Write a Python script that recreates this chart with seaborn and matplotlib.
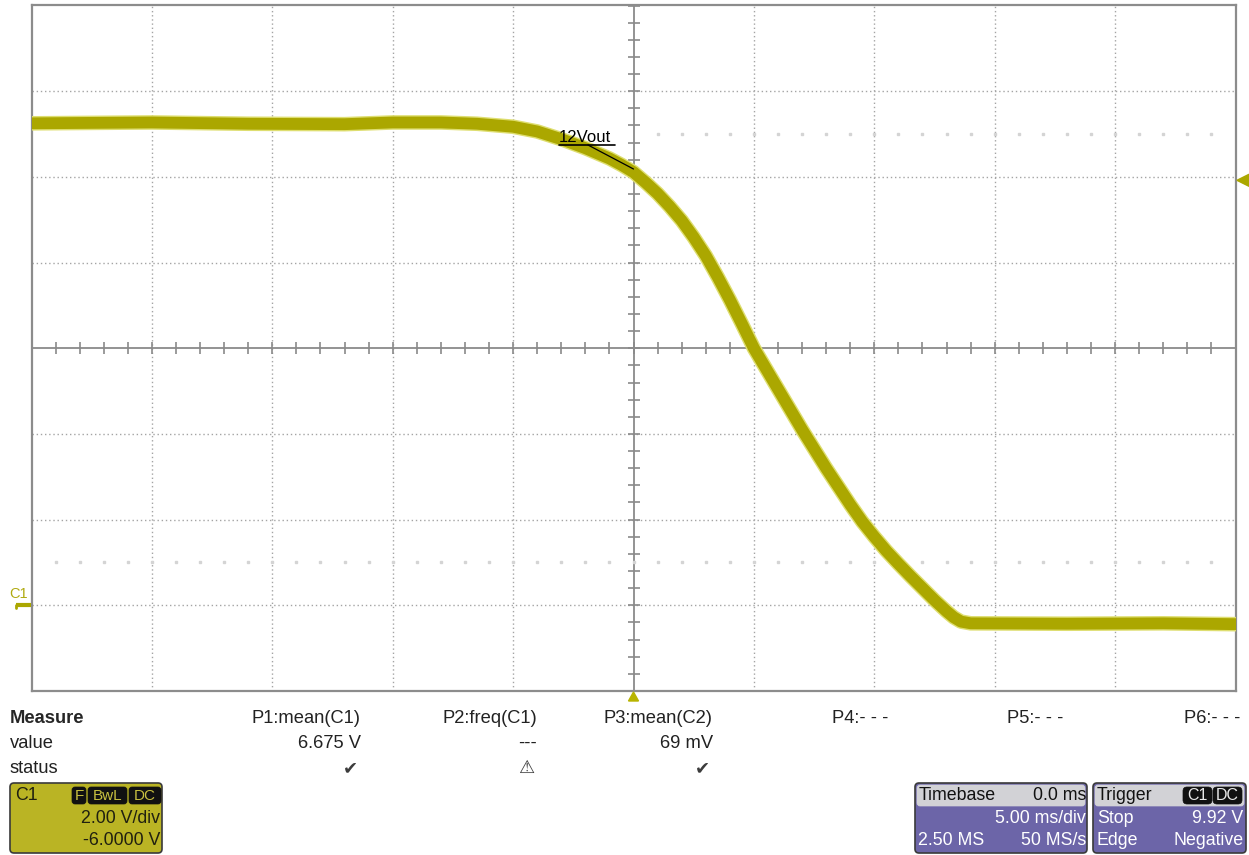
import numpy as np
import pandas as pd
import matplotlib
matplotlib.use("Agg")
import matplotlib.pyplot as plt
from matplotlib.patches import FancyBboxPatch, Polygon
import seaborn as sns

time_ms = [-25, -20, -16, -12, -10, -8, -6.5, -5, -4, -3, -2, -1, -0.5, 0, 0.5, 1,
           1.5, 2, 2.5, 3, 3.5, 4, 4.5, 5, 6, 7, 8, 9, 9.5, 10, 10.5, 11, 11.5, 12,
           12.5, 13, 13.3, 13.6, 14, 18, 22, 25]
volts = [11.25, 11.27, 11.24, 11.23, 11.27, 11.27, 11.24, 11.17, 11.06, 10.88,
         10.67, 10.43, 10.28, 10.11, 9.87, 9.61, 9.31, 8.98, 8.59, 8.16, 7.66,
         7.13, 6.57, 6.0, 5.05, 4.1, 3.2, 2.35, 1.95, 1.6, 1.27, 0.97, 0.68, 0.4,
         0.12, -0.14, -0.28, -0.38, -0.42, -0.43, -0.42, -0.44]

measure_names = ["P1:mean(C1)", "P2:freq(C1)", "P3:mean(C2)", "P4:- - -", "P5:- - -", "P6:- - -"]
measure_values = ["6.675 V", "---", "69 mV", "", "", ""]
measure_status = ["\u2714", "\u26A0", "\u2714", "", "", ""]

volts_per_div = 2.0
offset_v = -6.0
ms_per_div = 5.0
trigger_level = 9.92

TRACE = "#aba700"
OLIVE_BOX = "#bab424"
PURPLE = "#6c65a8"
HEADER = "#d2d2d6"

sns.set_style("white")
plt.rcParams["font.family"] = ["Liberation Sans", "DejaVu Sans"]

W, H = 1249, 855
fig = plt.figure(figsize=(W / 100, H / 100), dpi=100)
fig.patch.set_facecolor("white")

# main screen axes
L, R, T, B = 31.5, 1235.5, 5.5, 691
ax = fig.add_axes([L / W, 1 - B / H, (R - L) / W, (B - T) / H])
center_v = -offset_v
ax.set_xlim(-5 * ms_per_div, 5 * ms_per_div)
ax.set_ylim(center_v - 4 * volts_per_div, center_v + 4 * volts_per_div)
ax.set_xticks([])
ax.set_yticks([])
for s in ax.spines.values():
    s.set_color("#8c8c8c")
    s.set_linewidth(1.6)

grid_c = "#a4a4a4"
for xv in np.arange(-20, 21, 5):
    if xv != 0:
        ax.axvline(xv, color=grid_c, lw=1.0, ls=(0, (1, 2)), zorder=1)
for yv in np.arange(-2, 15, 2):
    if yv not in (-2, 14, 6):
        ax.axhline(yv, color=grid_c, lw=1.0, ls=(0, (1, 2)), zorder=1)
ax.axvline(0, color="#8a8a8a", lw=1.3, zorder=1)
ax.axhline(center_v, color="#8a8a8a", lw=1.3, zorder=1)
xt = np.arange(-25, 26, 1.0)
ax.plot(xt, np.full_like(xt, center_v), ls="none", marker="|", ms=9, mew=1.2,
        color="#8a8a8a", zorder=1)
yt = np.arange(-2, 14.01, 0.4)
ax.plot(np.zeros_like(yt), yt, ls="none", marker="_", ms=9, mew=1.2,
        color="#8a8a8a", zorder=1)
# faint dotted rows
xr = np.arange(1, 25, 1.0)
ax.plot(xr, np.full_like(xr, 11.0), ls="none", marker="s", ms=1.5, color="#d4d4d4", zorder=1)
xr2 = np.arange(-24, 25, 1.0)
ax.plot(xr2, np.full_like(xr2, 1.0), ls="none", marker="s", ms=1.5, color="#d4d4d4", zorder=1)

df = pd.DataFrame({"t": time_ms, "v": volts})
sns.lineplot(data=df, x="t", y="v", ax=ax, color="#dede70", linewidth=10.5,
             sort=False, zorder=3, legend=False, solid_joinstyle="round")
sns.lineplot(data=df, x="t", y="v", ax=ax, color=TRACE, linewidth=8.5,
             sort=False, zorder=4, legend=False, solid_joinstyle="round")
ax.set_xlabel("")
ax.set_ylabel("")

# overlay in pixel coordinates
ov = fig.add_axes([0, 0, 1, 1])
ov.set_xlim(0, W)
ov.set_ylim(H, 0)
ov.axis("off")
ov.patch.set_alpha(0)
ov.set_zorder(5)

def px_y(v):
    return T + (center_v + 4 * volts_per_div - v) / (8 * volts_per_div) * (B - T)

def px_x(t):
    return L + (t + 5 * ms_per_div) / (10 * ms_per_div) * (R - L)

# 12Vout label
ov.text(559, 137, "12Vout", fontsize=12, color="black", ha="left", va="center")
ov.plot([559, 615], [145, 145], color="black", lw=1.2)
ov.plot([588, px_x(0)], [145, 169], color="black", lw=0.9)

# C1 ground marker
gy = px_y(0)
ov.text(9, 594, "C1", fontsize=10.5, color="#b0aa10", ha="left", va="center")
ov.plot([16, 31], [gy, gy], color=TRACE, lw=3, solid_capstyle="butt")
ov.plot([16, 16], [gy, gy + 3], color=TRACE, lw=2)

# trigger level marker (right)
ty = px_y(trigger_level)
ov.add_patch(Polygon([[1237, ty], [1249, ty - 6], [1249, ty + 6]], closed=True,
                     color=TRACE))
# trigger time marker (bottom)
tx = px_x(0)
ov.add_patch(Polygon([[tx, 692], [tx - 5, 701], [tx + 5, 701]], closed=True,
                     color="#b8b400"))

# measurement table
fs = 13.2
ov.text(10, 718, "Measure", fontsize=fs, fontweight="bold", ha="left", va="center")
ov.text(10, 743, "value", fontsize=fs, ha="left", va="center", color="#222222")
ov.text(10, 768, "status", fontsize=fs, ha="left", va="center", color="#222222")
col_right = [361, 537, 713, 888, 1063, 1240]
for xr_, nm, val, st in zip(col_right, measure_names, measure_values, measure_status):
    ov.text(xr_, 718, nm, fontsize=fs, ha="right", va="center", color="#222222")
    if val:
        ov.text(xr_, 743, val, fontsize=fs, ha="right", va="center", color="#222222")
    if st:
        ov.text(xr_ - 3, 768, st, fontsize=13, ha="right", va="center", color="#3c3c3c",
                family=["DejaVu Sans"], fontweight="bold")

def rbox(x, y, w, h, fc, ec="#3a3a3a", r=4, lw=1.2):
    ov.add_patch(FancyBboxPatch((x, y), w, h, boxstyle=f"round,pad=0,rounding_size={r}",
                                fc=fc, ec=ec, lw=lw))

bfs = 12.8
# C1 box
rbox(10, 783, 152, 70, OLIVE_BOX)
ov.text(15, 795, "C1", fontsize=bfs, ha="left", va="center", color="#202010")
for (bx, bw, lab) in [(72, 14, "F"), (88, 39, "BwL"), (129, 32, "DC")]:
    rbox(bx, 787, bw, 17, "#111111", ec="#111111", r=3, lw=0.5)
    ov.text(bx + bw / 2, 795.5, lab, fontsize=11, ha="center", va="center", color="#c8c040")
ov.text(160, 818, "2.00 V/div", fontsize=bfs, ha="right", va="center", color="#202010")
ov.text(160, 840, "-6.0000 V", fontsize=bfs, ha="right", va="center", color="#202010")

# Timebase box
rbox(915, 783, 172, 70, PURPLE)
rbox(917, 785, 168, 21, HEADER, ec=HEADER, r=3, lw=0.5)
ov.text(919, 795, "Timebase", fontsize=bfs, ha="left", va="center", color="#111111")
ov.text(1086, 795, "0.0 ms", fontsize=bfs, ha="right", va="center", color="#111111")
ov.text(1086, 818, "5.00 ms/div", fontsize=bfs, ha="right", va="center", color="white")
ov.text(918, 840, "2.50 MS", fontsize=bfs, ha="left", va="center", color="white")
ov.text(1086, 840, "50 MS/s", fontsize=bfs, ha="right", va="center", color="white")

# Trigger box
rbox(1093, 783, 153, 70, PURPLE)
rbox(1095, 785, 149, 21, HEADER, ec=HEADER, r=3, lw=0.5)
ov.text(1097, 795, "Trigger", fontsize=bfs, ha="left", va="center", color="#111111")
for (bx, bw, lab) in [(1183, 29, "C1"), (1213, 29, "DC")]:
    rbox(bx, 787, bw, 17, "#111111", ec="#111111", r=4, lw=0.5)
    ov.text(bx + bw / 2, 795.5, lab, fontsize=11.5, ha="center", va="center", color="#e8e8e8")
ov.text(1097, 818, "Stop", fontsize=bfs, ha="left", va="center", color="white")
ov.text(1243, 818, "9.92 V", fontsize=bfs, ha="right", va="center", color="white")
ov.text(1097, 840, "Edge", fontsize=bfs, ha="left", va="center", color="white")
ov.text(1244, 840, "Negative", fontsize=bfs, ha="right", va="center", color="white")

fig.savefig("out.png", dpi=100, facecolor="white")
